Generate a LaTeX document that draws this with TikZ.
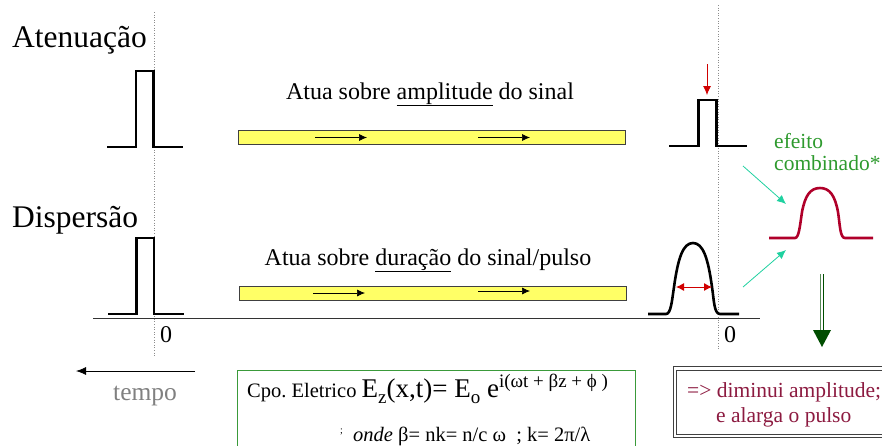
\documentclass[tikz,border=0pt]{standalone}
\usepackage{fontspec}
\setmainfont{Liberation Serif}
\usetikzlibrary{arrows.meta}
\definecolor{barfill}{HTML}{FFFF66}
\definecolor{pulsered}{HTML}{B0002A}
\definecolor{arrred}{HTML}{D00000}
\definecolor{effgreen}{HTML}{2E9A2E}
\definecolor{tealc}{HTML}{1FD1A0}
\definecolor{dkgreen}{HTML}{004D00}
\definecolor{boxgreen}{HTML}{3A9A3A}
\definecolor{maroon}{HTML}{8C1A40}
\frenchspacing
\tikzset{
  pulse/.style={line width=2.6pt, line join=miter},
  fiber/.style={draw=black!75, fill=barfill, line width=0.7pt},
  guide/.style={draw=black!45, dotted, line width=0.6pt},
  smallarrow/.style={-{Latex[length=8pt,width=7pt]}, line width=0.7pt},
  tealarrow/.style={tealc, line width=0.8pt, -{Latex[length=9pt,width=8pt]}},
  lbl/.style={inner sep=0pt, anchor=base west},
}
\begin{document}
\begin{tikzpicture}[x=1pt,y=-1pt]
\useasboundingbox (0,0) rectangle (882,445);
% guides
\draw[guide] (154.5,12) -- (154.5,357);
\draw[guide] (718,5) -- (718,350);
% axis
\draw[black!80, line width=0.8pt] (93,318) -- (760,318);
% titles
\node[lbl] (aten) at (12,47) {\fontsize{31.5}{31.5}\selectfont Atenuação};
\node[lbl] (disp) at (12,227) {\fontsize{31.5}{31.5}\selectfont Dispersão};
% left pulses
\draw[pulse] (107,147) -- (136,147) -- (136,71) -- (153.5,71) -- (153.5,147) -- (183,147);
\draw[pulse] (108,314) -- (136.5,314) -- (136.5,238) -- (154,238) -- (154,314) -- (184,314);
% zeros
\node[lbl] (z1) at (160,342) {\fontsize{24}{24}\selectfont 0};
\node[lbl] (z2) at (724,342) {\fontsize{24}{24}\selectfont 0};
% fibers
\node[fiber, minimum width=387pt, minimum height=14pt, inner sep=0pt, anchor=north west] (bar1) at (238,130) {};
\node[fiber, minimum width=387pt, minimum height=14pt, inner sep=0pt, anchor=north west] (bar2) at (239,286) {};
\coordinate (a1s) at (315,137.5); \coordinate (a1e) at (367,137.5);
\coordinate (a2s) at (478,137.5); \coordinate (a2e) at (530,137.5);
\coordinate (a3s) at (313,293); \coordinate (a3e) at (365,293);
\coordinate (a4s) at (478,291); \coordinate (a4e) at (530,291);
\draw[smallarrow] (a1s) -- (a1e);
\draw[smallarrow] (a2s) -- (a2e);
\draw[smallarrow] (a3s) -- (a3e);
\draw[smallarrow] (a4s) -- (a4e);
% captions
\node[inner sep=0pt, anchor=base] (cap1) at (430,99) {\fontsize{24}{24}\selectfont Atua sobre \underline{amplitude} do sinal};
\node[inner sep=0pt, anchor=base] (cap2) at (428,265) {\fontsize{24}{24}\selectfont Atua sobre \underline{duração} do sinal/pulso};
% right attenuated pulse
\draw[pulse] (669,146) -- (698.5,146) -- (698.5,100) -- (716.5,100) -- (716.5,146) -- (747,146);
\coordinate (ra1) at (707,64); \coordinate (ra2) at (707,95);
\draw[arrred, line width=0.8pt, -{Latex[length=9pt,width=8pt]}] (ra1) -- (ra2);
% right dispersed pulse
\draw[line width=2.6pt, line join=round] (648,314) -- (666,314) .. controls (671,314) and (672,300) .. (674,287) .. controls (678,258) and (683,243) .. (693,243) .. controls (703,243) and (708,258) .. (712,287) .. controls (714,300) and (714,314) .. (720,314) -- (739,314);
\coordinate (dw1) at (676,287); \coordinate (dw2) at (712,287);
\draw[arrred, line width=0.9pt, {Latex[length=8pt,width=8pt]}-{Latex[length=8pt,width=8pt]}] (dw1) -- (dw2);
% combined pulse
\draw[pulsered, line width=2.6pt, line join=round] (769,238) -- (795,238) .. controls (799,238) and (800,225) .. (802,212) .. controls (805,196) and (810,188) .. (820,188) .. controls (830,188) and (835,196) .. (838,212) .. controls (840,225) and (840,238) .. (845,238) -- (873,238);
\node[lbl, text=effgreen] (eff1) at (774,148) {\fontsize{21.5}{21.5}\selectfont efeito};
\node[lbl, text=effgreen] (eff2) at (774,170) {\fontsize{21.5}{21.5}\selectfont combinado*};
\coordinate (t1s) at (743,166); \coordinate (t1e) at (786,204);
\coordinate (t2s) at (743,287); \coordinate (t2e) at (786,250);
\draw[tealarrow] (t1s) -- (t1e);
\draw[tealarrow] (t2s) -- (t2e);
% green down arrow
\coordinate (g2) at (822,347);
\draw[dkgreen!65, line width=0.9pt] (820.5,274) -- (820.5,332);
\draw[dkgreen, line width=0.9pt] (823.5,274) -- (823.5,332);
\fill[dkgreen] (813,330) -- (831,330) -- (g2) -- cycle;
% tempo
\coordinate (tp1) at (195,371); \coordinate (tp2) at (76,371);
\draw[line width=0.8pt, -{Latex[length=10pt,width=8pt]}] (tp1) -- (tp2);
\node[lbl, text=black!50] (tempo) at (113,400) {\fontsize{25.5}{25.5}\selectfont tempo};
% formula box
\draw[boxgreen, line width=0.9pt] (237.5,450) -- (237.5,370.5) -- (635,370.5) -- (635,450);
\node[lbl] (f1) at (247,397) {\fontsize{20.5}{20.5}\selectfont Cpo. Eletrico {\fontsize{27}{27}\selectfont E\raisebox{-6pt}{\fontsize{19}{19}\selectfont z}(x,t)= E\raisebox{-6pt}{\fontsize{19}{19}\selectfont o} e\raisebox{10pt}{\fontsize{19}{19}\selectfont i(ωt + βz + ϕ )}}};
\node[lbl] (f1b) at (340,441) {\raisebox{8pt}{\fontsize{10}{10}\selectfont ;}};
\node[lbl] (f2) at (353,441) {\fontsize{20.5}{20.5}\selectfont \textit{onde} β= nk= n/c ω~ ; k= 2π/λ};
% right summary box
\draw[black!75, line width=0.8pt] (673,366.5) -- (890,366.5) (673,366.5) -- (673,437.5) -- (890,437.5);
\draw[black!75, line width=0.8pt] (676.5,370) -- (890,370) (676.5,370) -- (676.5,434) -- (890,434);
\node[lbl, text=maroon] (s1) at (687,397) {\fontsize{21.5}{21.5}\selectfont => diminui amplitude;};
\node[lbl, text=maroon] (s2) at (716,422) {\fontsize{21.5}{21.5}\selectfont e alarga o pulso};
\end{tikzpicture}
\end{document}
